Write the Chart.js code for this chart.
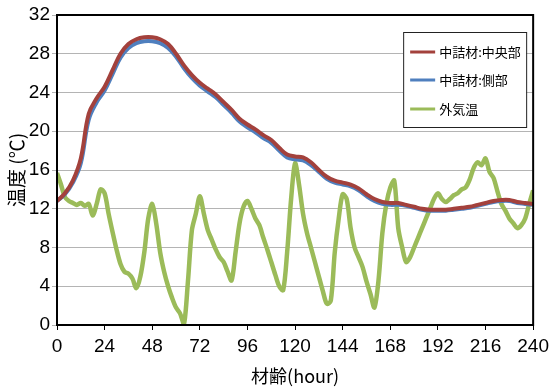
<!DOCTYPE html>
<html lang="ja">
<head>
<meta charset="UTF-8">
<title>温度</title>
<script src="https://cdn.jsdelivr.net/npm/chart.js"></script>
<style>
  body { margin: 0; background: #fff; }
</style>
</head>
<body>
<canvas id="tempChart" width="549" height="387"></canvas>
<script>
// 材齢 (hour)
const hoursCore = [0,4,8,12,16,20,24,28,32,36,40,44,48,52,56,60,64,68,72,76,80,84,88,92,96,100,104,108,112,116,120,124,128,132,136,140,144,148,152,156,160,164,168,172,176,180,184,188,192,196,200,204,208,212,216,220,224,228,232,236,240];
// 中詰材:中央部
const centerTemp = [12.8,13.6,14.9,17.2,21.8,23.4,24.6,26.3,28.0,29.0,29.5,29.7,29.7,29.5,29.0,28.0,26.8,25.8,25.0,24.4,23.8,23.0,22.2,21.3,20.7,20.2,19.6,19.1,18.3,17.6,17.4,17.3,16.8,16.0,15.3,14.9,14.7,14.5,14.1,13.5,13.0,12.7,12.6,12.6,12.4,12.2,12.0,11.9,11.9,11.9,12.0,12.1,12.2,12.4,12.6,12.8,12.9,12.9,12.7,12.6,12.5];
// 中詰材:側部
const sideTemp = [12.8,13.5,14.7,16.7,21.2,23.0,24.2,25.9,27.6,28.6,29.1,29.3,29.3,29.1,28.6,27.7,26.5,25.5,24.7,24.1,23.5,22.7,21.9,21.0,20.4,19.9,19.3,18.8,18.0,17.3,17.1,17.0,16.5,15.8,15.1,14.7,14.5,14.3,13.9,13.3,12.8,12.5,12.4,12.4,12.3,12.1,11.9,11.8,11.8,11.8,11.9,12.0,12.1,12.3,12.5,12.7,12.8,12.8,12.6,12.5,12.4];

const hoursAir = [0,2,4,6,8,10,12,14,16,18,20,22,24,26,28,30,32,34,36,38,40,42,44,46,48,50,52,54,56,58,60,62,64,66,68,70,72,74,76,78,80,82,84,86,88,90,92,94,96,98,100,102,104,106,108,110,112,114,116,118,120,122,124,126,128,130,132,134,136,138,140,142,144,146,148,150,152,154,156,158,160,162,164,166,168,170,172,174,176,178,180,182,184,186,188,190,192,194,196,198,200,202,204,206,208,210,212,214,216,218,220,222,224,226,228,230,232,234,236,238,240];
// 外気温
const airTemp = [15.7,14.5,13.2,12.8,12.6,12.4,12.6,12.3,12.5,11.3,12.5,14.0,13.6,11.5,9.6,7.8,6.3,5.5,5.3,4.8,3.8,5.0,7.5,11.0,12.5,10.5,7.5,5.5,4.0,2.8,1.8,1.2,0.1,4.5,9.8,11.5,13.3,11.5,9.8,8.8,7.8,7.0,6.5,5.5,4.6,7.5,10.5,12.2,12.8,12.0,11.0,10.3,9.0,7.8,6.5,5.2,4.0,3.6,7.5,13.0,16.7,14.5,11.5,9.5,8.0,6.5,5.0,3.5,2.2,2.5,7.5,11.0,13.5,13.0,10.0,8.0,7.0,6.0,4.5,3.2,1.8,4.5,9.5,12.5,14.2,14.9,10.0,8.0,6.5,7.0,8.0,9.0,10.0,11.0,12.0,13.0,13.6,13.0,12.7,13.0,13.4,13.6,14.0,14.2,15.0,16.2,16.8,16.5,17.2,15.8,15.2,13.8,12.5,11.8,11.0,10.5,10.0,10.3,11.0,12.5,13.9];

const seriesNames = ['中詰材:中央部', '中詰材:側部', '外気温'];
const seriesColors = ['#a3413c', '#4f7fbe', '#9bbb59'];

function toPoints(xs, ys) {
    return xs.map((x, i) => ({ x: x, y: ys[i] }));
}

const tickFont = { family: '"Liberation Sans Narrow", "Liberation Sans", sans-serif', size: 19 };

// legend box sitting inside the plot, plus the black frame
const framePlugin = {
    id: 'frame',
    afterDraw(chart) {
        const c = chart.ctx;
        const a = chart.chartArea;
        c.save();
        c.strokeStyle = '#000';
        c.lineWidth = 2;
        c.strokeRect(a.left, a.top, a.right - a.left, a.bottom - a.top);

        const bx = a.right - 130, by = a.top + 17, bw = 123, bh = 95;
        c.fillStyle = '#fff';
        c.fillRect(bx, by, bw, bh);
        c.lineWidth = 1;
        c.strokeStyle = '#222';
        c.strokeRect(bx + 0.5, by + 0.5, bw, bh);
        c.font = '13px "Noto Sans CJK JP", sans-serif';
        c.textBaseline = 'middle';
        const rows = [20, 48, 77];
        seriesNames.forEach((name, i) => {
            const y = by + rows[i];
            c.strokeStyle = seriesColors[i];
            c.lineWidth = 3;
            c.beginPath();
            c.moveTo(bx + 7, y);
            c.lineTo(bx + 32, y);
            c.stroke();
            c.fillStyle = '#000';
            c.fillText(name, bx + 36, y);
        });
        c.restore();
    }
};

const ctx = document.getElementById('tempChart').getContext('2d');
const chart = new Chart(ctx, {
    type: 'line',
    data: {
        datasets: [
            { label: seriesNames[0], data: toPoints(hoursCore, centerTemp), borderColor: seriesColors[0], borderWidth: 4, tension: 0.4 },
            { label: seriesNames[1], data: toPoints(hoursCore, sideTemp), borderColor: seriesColors[1], borderWidth: 4, tension: 0.4 },
            { label: seriesNames[2], data: toPoints(hoursAir, airTemp), borderColor: seriesColors[2], borderWidth: 4.5, tension: 0.3 }
        ]
    },
    options: {
        responsive: false,
        animation: false,
        elements: { point: { radius: 0 } },
        layout: { padding: { top: 15, right: 0, left: 0, bottom: 0 } },
        plugins: { legend: { display: false }, tooltip: { enabled: false } },
        scales: {
            x: {
                type: 'linear',
                min: 0,
                max: 240,
                afterFit: (s) => { s.height = 62; },
                ticks: { stepSize: 24, color: '#000', font: { family: tickFont.family, size: 19, lineHeight: 1.8 }, padding: 0, maxRotation: 0 },
                grid: { drawOnChartArea: false, drawTicks: true, tickLength: 5, color: '#000' },
                border: { color: '#000', width: 2 },
                title: { display: true, text: '材齢(hour)', color: '#000', font: { family: '"Noto Sans CJK JP", sans-serif', size: 18 }, padding: { top: 0, bottom: 0 } }
            },
            y: {
                min: 0,
                max: 32,
                afterFit: (s) => { s.width = 57; },
                ticks: {
                    stepSize: 2,
                    color: '#000',
                    font: tickFont,
                    padding: 2,
                    callback: (v) => (v % 4 === 0 ? v : '')
                },
                grid: { color: '#b4b4b4', lineWidth: 1, tickLength: 5 },
                border: { color: '#000', width: 2 },
                title: { display: true, text: '温度 (℃)', color: '#000', font: { family: '"Noto Sans CJK JP", sans-serif', size: 19 }, padding: { top: 5, bottom: 0 } }
            }
        }
    },
    plugins: [framePlugin]
});
</script>
</body>
</html>
